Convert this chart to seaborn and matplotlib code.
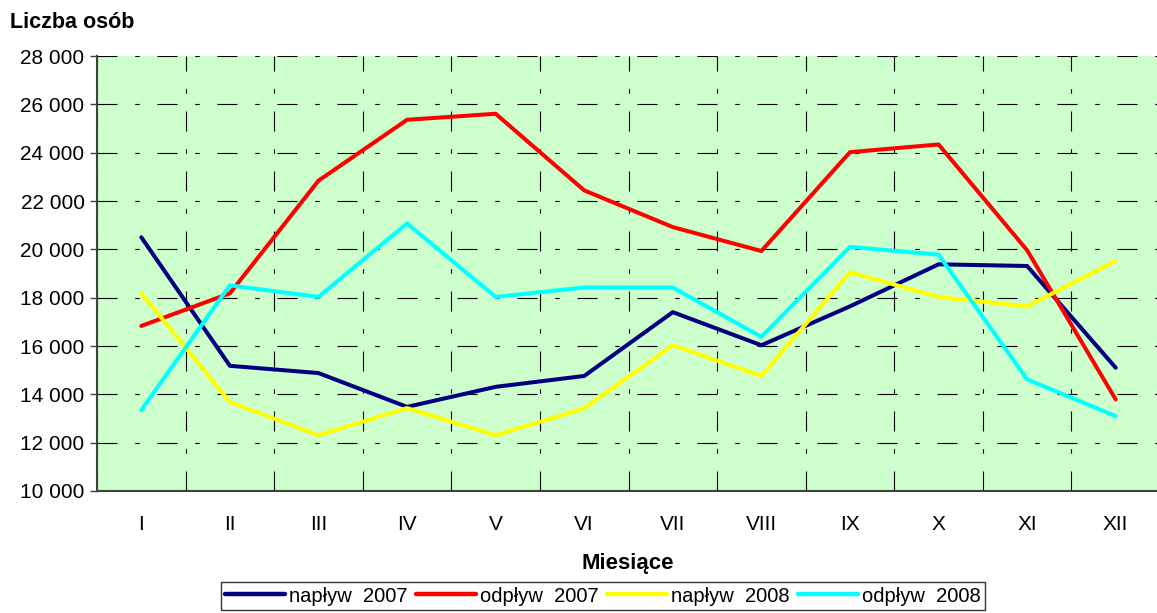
import pandas as pd
import matplotlib.pyplot as plt
import seaborn as sns
from matplotlib.ticker import FuncFormatter, FixedLocator

# --- dane ---
months = ["I", "II", "III", "IV", "V", "VI", "VII", "VIII", "IX", "X", "XI", "XII"]
naplyw_2007 = [20500, 15180, 14880, 13480, 14310, 14760, 17400, 16030, 17640, 19380, 19310, 15100]
odplyw_2007 = [16830, 18180, 22840, 25360, 25610, 22440, 20920, 19930, 24020, 24340, 19960, 13790]
naplyw_2008 = [18190, 13680, 12310, 13430, 12310, 13420, 16030, 14760, 19050, 18030, 17640, 19520]
odplyw_2008 = [13350, 18510, 18030, 21070, 18030, 18420, 18420, 16380, 20100, 19780, 14620, 13100]
series_names = ["napływ  2007", "odpływ  2007", "napływ  2008", "odpływ  2008"]
series_colors = ["#000080", "#FF0000", "#FFFF00", "#00FFFF"]

rows = []
for name, vals in zip(series_names, [naplyw_2007, odplyw_2007, naplyw_2008, odplyw_2008]):
    for i, v in enumerate(vals):
        rows.append({"pos": i, "value": v, "seria": name})
df = pd.DataFrame(rows)

sns.set_style("white")
plt.rcParams["font.family"] = ["Liberation Sans", "DejaVu Sans"]
plt.rcParams["text.color"] = "black"
plt.rcParams["xtick.labelcolor"] = "black"
plt.rcParams["ytick.labelcolor"] = "black"

fig = plt.figure(figsize=(11.57, 6.13), dpi=100)
ax = fig.add_axes([97 / 1157, 1 - 491 / 613, 1063 / 1157, 435 / 613])
ax.set_facecolor("#CCFFCC")

sns.lineplot(data=df, x="pos", y="value", hue="seria", palette=series_colors,
             linewidth=2.9, sort=False, ax=ax, legend=False)

ax.set_xlim(-0.5, 11.5)
ax.set_ylim(10000, 28000)
ax.set_yticks(range(10000, 28001, 2000))
ax.yaxis.set_major_formatter(FuncFormatter(lambda v, p: f"{int(v):,}".replace(",", " ")))
ax.set_xticks(range(12))
ax.set_xticklabels(months)
ax.xaxis.set_minor_locator(FixedLocator([i + 0.5 for i in range(-1, 12)]))

# siatka przerywana
grid_style = dict(color="black", linewidth=0.8, linestyle=(0, (18, 16, 4, 16)))
ax.grid(True, axis="y", which="major", **grid_style)
ax.grid(True, axis="x", which="minor", **grid_style)
ax.grid(False, axis="x", which="major")
ax.set_axisbelow(True)

ax.tick_params(axis="x", which="major", length=0, pad=17, labelsize=15)
ax.tick_params(axis="x", which="minor", length=5, width=1, color="#404040", direction="out")
ax.tick_params(axis="y", which="major", length=5, width=1, color="#404040", direction="out",
               labelsize=15, left=True, pad=4)

for s in ["top", "right"]:
    ax.spines[s].set_visible(False)
for s in ["left", "bottom"]:
    ax.spines[s].set_color("#404040")
    ax.spines[s].set_linewidth(1.5)

ax.set_xlabel("")
ax.set_ylabel("")
fig.text(10 / 1157, 1 - 22 / 613, "Liczba osób", fontsize=15.5, fontweight="bold",
         ha="left", va="center")
fig.text(628 / 1157, 1 - 564 / 613, "Miesiące", fontsize=16, fontweight="bold",
         ha="center", va="center")

handles = [plt.Line2D([], [], color=c, linewidth=3.2) for c in series_colors]
leg = fig.legend(handles, series_names, loc="center", bbox_to_anchor=(603 / 1157, 1 - 596 / 613),
                 ncol=4, fontsize=14.5, frameon=True, fancybox=False, edgecolor="black",
                 handlelength=3.0, handletextpad=0.2, columnspacing=0.4, borderpad=0.2,
                 borderaxespad=0)
leg.get_frame().set_linewidth(1.0)

fig.savefig("out.png", dpi=100)
plt.close(fig)
